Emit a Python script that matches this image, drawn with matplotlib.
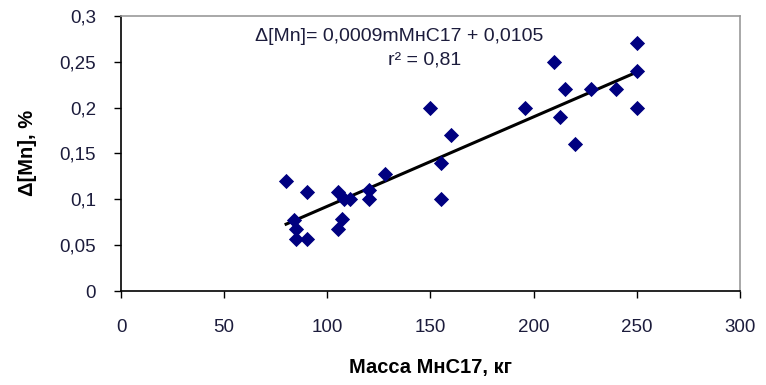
import matplotlib
matplotlib.use("Agg")
import matplotlib.pyplot as plt
import numpy as np

plt.rcParams["font.family"] = ["Liberation Sans", "DejaVu Sans"]

# Масса МнС17 (кг) и прирост [Mn] (%)
mass = [80, 84, 85, 85, 90, 90, 105, 105, 107, 108, 111, 120, 120, 128,
        150, 155, 155, 160, 196, 210, 213, 215, 220, 228, 240, 250, 250, 250]
d_mn = [0.12, 0.077, 0.068, 0.057, 0.108, 0.057, 0.108, 0.068, 0.078, 0.10,
        0.10, 0.11, 0.10, 0.128, 0.20, 0.14, 0.10, 0.17, 0.20, 0.25, 0.19,
        0.22, 0.16, 0.22, 0.22, 0.27, 0.24, 0.20]

x_ticks = [0, 50, 100, 150, 200, 250, 300]
y_ticks = [0, 0.05, 0.1, 0.15, 0.2, 0.25, 0.3]
y_labels = ["0", "0,05", "0,1", "0,15", "0,2", "0,25", "0,3"]

TXT = "#1c1c3c"

fig = plt.figure(figsize=(7.66, 3.85), dpi=100)
ax = fig.add_axes([0.158, 0.244, 0.808, 0.715])

ax.scatter(mass, d_mn, marker="D", s=60, color="#000080", zorder=3, linewidths=0)

# linear trend
k, b = np.polyfit(mass, d_mn, 1)
xs = np.array([min(mass), max(mass)])
ax.plot(xs, k * xs + b, color="black", lw=2.2, zorder=2)

ax.set_xlim(0, 300)
ax.set_ylim(0, 0.3)
ax.set_xticks(x_ticks)
ax.set_xticklabels([str(v) for v in x_ticks])
ax.set_yticks(y_ticks)
ax.set_yticklabels(y_labels)
ax.tick_params(direction="out", length=5, width=1, labelsize=13.5, colors="black",
               labelcolor=TXT)
ax.tick_params(axis="x", pad=15)
ax.tick_params(axis="y", pad=13)

for s in ["left", "bottom"]:
    ax.spines[s].set_color("black")
    ax.spines[s].set_linewidth(1.2)
for s in ["top", "right"]:
    ax.spines[s].set_color("#999999")
    ax.spines[s].set_linewidth(1.2)

ax.text(0.449, 0.955, "Δ[Mn]= 0,0009mМнС17 + 0,0105", transform=ax.transAxes,
        ha="center", va="top", fontsize=14, color=TXT)
ax.text(0.49, 0.872, "r² = 0,81", transform=ax.transAxes,
        ha="center", va="top", fontsize=14, color=TXT)

ax.set_xlabel("Масса МнС17, кг", fontsize=14.5, fontweight="bold", labelpad=16)
ax.set_ylabel("Δ[Mn], %", fontsize=14.5, fontweight="bold", labelpad=16)

fig.savefig("out.png", dpi=100)
